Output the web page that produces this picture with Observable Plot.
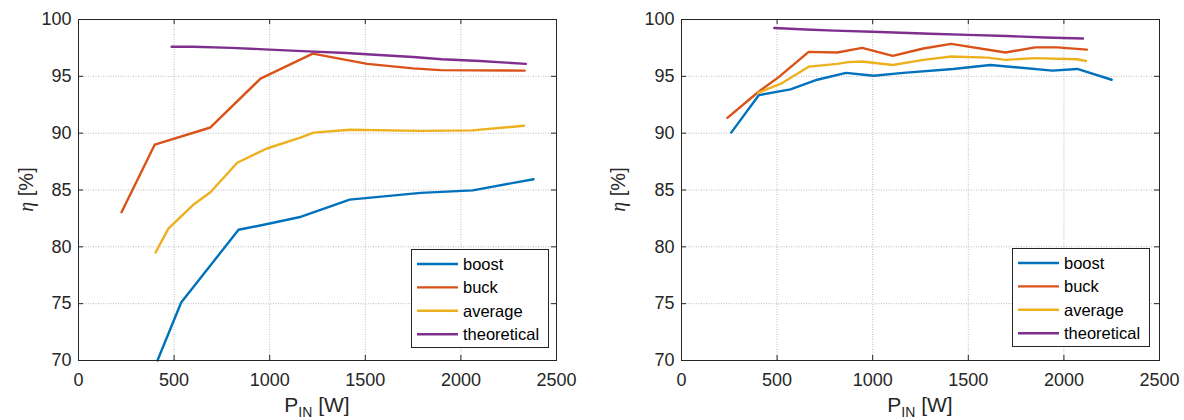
<!DOCTYPE html>
<html><head><meta charset="utf-8">
<script src="https://cdn.jsdelivr.net/npm/d3@7"></script>
<script src="https://cdn.jsdelivr.net/npm/@observablehq/plot@0.6"></script>
<style>
body{margin:0;background:#fff;font-family:"Liberation Sans",Arial,Helvetica,sans-serif;}
#wrap{position:relative;width:1184px;height:420px;display:flex;overflow:hidden;}
svg{display:block;}
</style></head><body><div id="wrap"></div>
<script>
const series = ["boost","buck","average","theoretical"];
const colors = ["#0072BD","#D95319","#EDB120","#7E2F8E"];
const xTicks = [0,500,1000,1500,2000,2500];
const yTicks = [70,75,80,85,90,95,100];

// Left panel
const L_boost_p   = [413, 537, 837, 1000, 1165, 1418, 1790, 2062, 2380];
const L_boost_eta = [70.0, 75.1, 81.5, 82.05, 82.65, 84.15, 84.75, 84.97, 85.95];
const L_buck_p    = [225, 399, 690, 952, 1225, 1510, 1750, 1893, 2333];
const L_buck_eta  = [83.05, 89.0, 90.5, 94.8, 97.0, 96.1, 95.7, 95.55, 95.5];
const L_avg_p     = [403, 470, 600, 690, 830, 985, 1160, 1230, 1420, 1790, 2060, 2330];
const L_avg_eta   = [79.5, 81.6, 83.7, 84.8, 87.4, 88.65, 89.6, 90.05, 90.3, 90.2, 90.25, 90.65];
const L_theo_p    = [487, 600, 800, 1000, 1200, 1400, 1550, 1750, 1900, 2100, 2340];
const L_theo_eta  = [97.6, 97.6, 97.5, 97.35, 97.2, 97.05, 96.9, 96.7, 96.5, 96.35, 96.1];

// Right panel
const R_boost_p   = [260, 405, 570, 710, 860, 1005, 1160, 1420, 1615, 1940, 2070, 2250];
const R_boost_eta = [90.05, 93.35, 93.85, 94.7, 95.3, 95.05, 95.3, 95.65, 96.0, 95.5, 95.65, 94.7];
const R_buck_p    = [240, 400, 510, 665, 815, 945, 1105, 1265, 1410, 1695, 1850, 1965, 2120];
const R_buck_eta  = [91.35, 93.6, 94.95, 97.15, 97.1, 97.5, 96.8, 97.45, 97.85, 97.1, 97.55, 97.55, 97.35];
const R_avg_p     = [400, 520, 665, 815, 870, 945, 1105, 1265, 1410, 1600, 1695, 1845, 2070, 2115];
const R_avg_eta   = [93.55, 94.35, 95.85, 96.1, 96.25, 96.3, 96.0, 96.45, 96.75, 96.65, 96.45, 96.6, 96.5, 96.35];
const R_theo_p    = [485, 650, 800, 1000, 1150, 1300, 1500, 1700, 1900, 2100];
const R_theo_eta  = [99.25, 99.12, 99.02, 98.92, 98.84, 98.75, 98.65, 98.55, 98.42, 98.33];

function table(pairs) {
  const rows = [];
  pairs.forEach(([p, e], i) => p.forEach((v, j) => rows.push({series: series[i], p: v, eta: e[j]})));
  return rows;
}
const leftData = table([[L_boost_p,L_boost_eta],[L_buck_p,L_buck_eta],[L_avg_p,L_avg_eta],[L_theo_p,L_theo_eta]]);
const rightData = table([[R_boost_p,R_boost_eta],[R_buck_p,R_buck_eta],[R_avg_p,R_avg_eta],[R_theo_p,R_theo_eta]]);

const INK = "#262626";
const fmt = d => String(d);
function panel(data, width, marginLeft, marginRight, legendX, legendY) {
  const marginTop = 19, marginBottom = 60, height = 420;
  const plotW = width - marginLeft - marginRight;
  const plotH = height - marginTop - marginBottom;
  const tick = 5;
  const chart = Plot.plot({
    width, height, marginLeft, marginRight, marginTop, marginBottom,
    style: {fontFamily: '"Liberation Sans", Arial, Helvetica, sans-serif', fontSize: "18px", color: INK, background: "white", overflow: "visible"},
    x: {domain: [0, 2500], label: null},
    y: {domain: [70, 100], label: null},
    color: {domain: series, range: colors},
    marks: [
      Plot.gridX(xTicks, {stroke: "#bcbcbc", strokeOpacity: 1, strokeDasharray: "1,1.5"}),
      Plot.gridY(yTicks, {stroke: "#bcbcbc", strokeOpacity: 1, strokeDasharray: "1,1.5"}),
      Plot.line(data, {x: "p", y: "eta", z: "series", stroke: "series", strokeWidth: 2.4}),
      Plot.ruleY(yTicks, {insetRight: plotW - tick, stroke: INK}),
      Plot.ruleY(yTicks, {insetLeft: plotW - tick, stroke: INK}),
      Plot.ruleX(xTicks, {insetTop: plotH - tick, stroke: INK}),
      Plot.ruleX(xTicks, {insetBottom: plotH - tick, stroke: INK}),
      Plot.frame({stroke: INK}),
      Plot.axisX(xTicks, {tickSize: 0, tickPadding: 13, label: null, tickFormat: fmt}),
      Plot.axisY(yTicks, {tickSize: 0, tickPadding: 7, label: null, tickFormat: fmt})
    ]
  });
  const svg = d3.select(chart);
  // x label
  const xl = svg.append("text").attr("x", marginLeft + plotW / 2).attr("y", 412)
    .attr("text-anchor", "middle").attr("font-size", 21).attr("fill", INK);
  xl.append("tspan").text("P");
  xl.append("tspan").attr("font-size", 14).attr("dy", 5).text("IN");
  xl.append("tspan").attr("dy", -5).text(" [W]");
  // y label
  const yl = svg.append("text").attr("transform", `translate(33,${marginTop + plotH / 2}) rotate(-90)`)
    .attr("text-anchor", "middle").attr("font-size", 20).attr("fill", INK);
  yl.append("tspan").attr("font-family", '"Liberation Serif", "DejaVu Serif", serif').attr("font-style", "italic").text("η");
  yl.append("tspan").text(" [%]");
  // legend
  const lg = svg.append("g").attr("transform", `translate(${legendX},${legendY})`);
  lg.append("rect").attr("x", 0.5).attr("y", 0.5).attr("width", 137).attr("height", 98)
    .attr("fill", "white").attr("stroke", INK).attr("stroke-width", 1);
  series.forEach((s, i) => {
    const y = 15 + i * 23.4;
    lg.append("line").attr("x1", 6).attr("x2", 47).attr("y1", y).attr("y2", y)
      .attr("stroke", colors[i]).attr("stroke-width", 2.4);
    lg.append("text").attr("x", 52).attr("y", y).attr("dy", "0.35em").attr("text-anchor", "start")
      .attr("font-size", 16.5).attr("fill", "#000").text(s);
  });
  return chart;
}

const wrap = document.getElementById("wrap");
wrap.appendChild(panel(leftData, 592, 78, 36, 411, 249));
wrap.appendChild(panel(rightData, 592, 89, 25, 420, 248));
</script></body></html>
